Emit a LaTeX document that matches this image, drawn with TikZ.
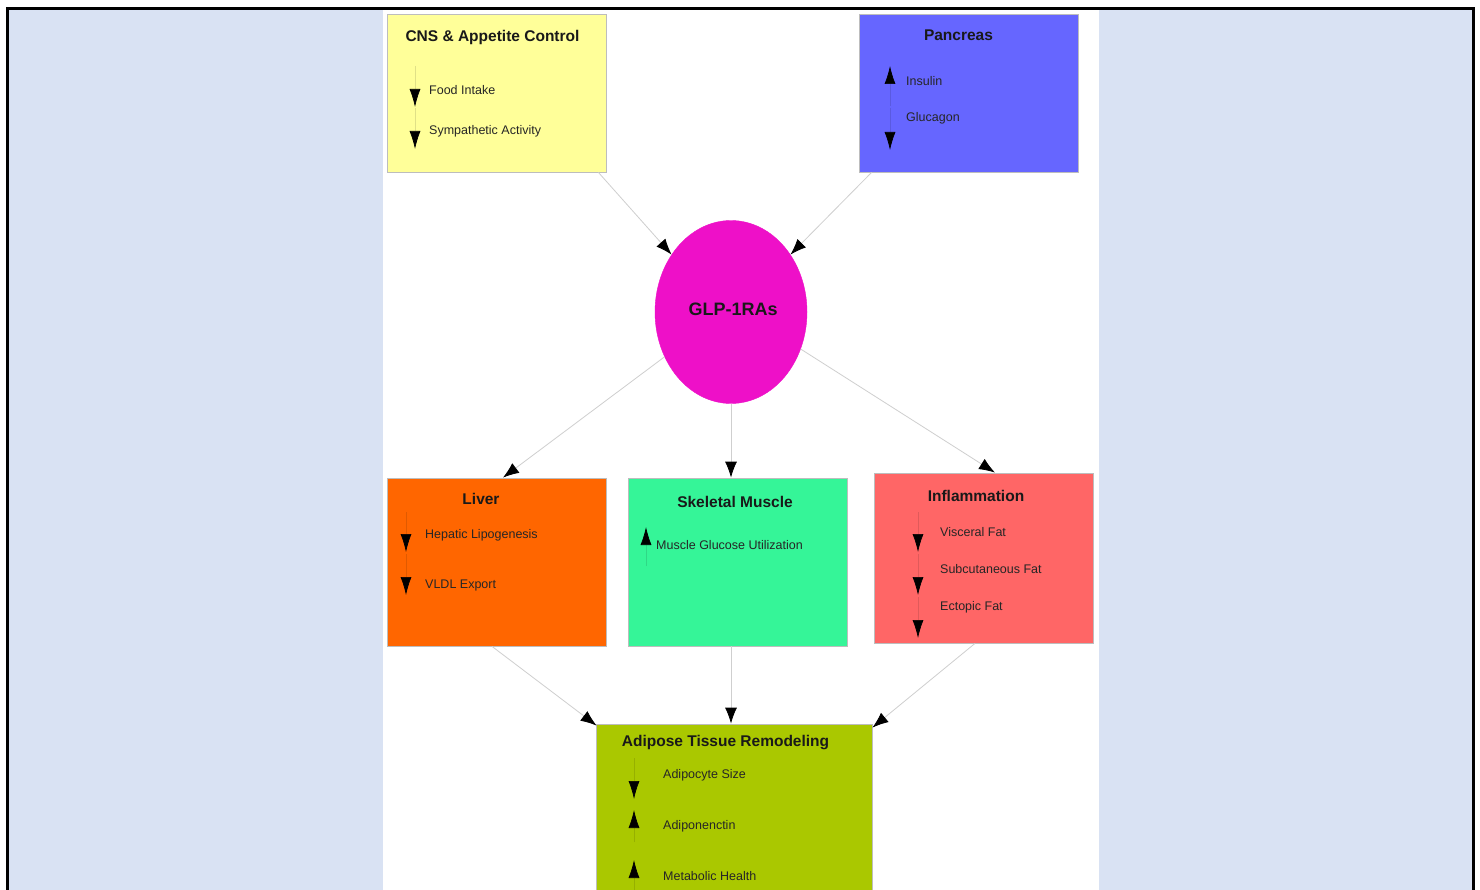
\documentclass[tikz,border=0pt]{standalone}
\usepackage{fontspec}
\setmainfont{Liberation Sans}
\usetikzlibrary{arrows.meta,shapes.geometric}
\definecolor{bgblue}{HTML}{D9E2F3}
\definecolor{cnsfill}{HTML}{FFFF99}
\definecolor{panfill}{HTML}{6666FF}
\definecolor{glpfill}{HTML}{EE10C8}
\definecolor{livfill}{HTML}{FF6600}
\definecolor{musfill}{HTML}{35F598}
\definecolor{infill}{HTML}{FF6666}
\definecolor{adifill}{HTML}{AAC800}
\definecolor{boxline}{HTML}{BDBDBD}
\definecolor{linegray}{HTML}{CFCFCF}
\begin{document}
\begin{tikzpicture}[x=1pt,y=-1pt,
  box/.style={draw=boxline,line width=0.8pt,minimum width=219pt,minimum height=158pt,inner sep=0pt},
  ttl/.style={font=\fontsize{15.5}{18}\selectfont\bfseries,text=black!90,inner sep=0pt},
  itm/.style={font=\fontsize{12.5}{15}\selectfont,text=black!85,anchor=west,inner sep=0pt},
  conn/.style={draw=linegray,line width=0.8pt,-{Latex[length=16pt,width=12pt,color=black]}},
  mk/.style={draw=#1!88!black,line width=0.7pt,-{Latex[length=18pt,width=11pt,color=black]}}]
\useasboundingbox (0,0) rectangle (1480,890);
\clip (0,0) rectangle (1480,890);
\fill[white] (0,0) rectangle (1480,890);
\draw[line width=3pt,fill=bgblue] (7.5,8.5) rectangle (1473.5,920);
\fill[white] (383,10) rectangle (1099,890);

% main nodes
\node[box,fill=cnsfill] (cns) at (496.5,93) {};
\node[box,fill=panfill] (pan) at (968.5,93) {};
\node[ellipse,fill=glpfill,draw=glpfill,minimum width=152pt,minimum height=183pt,inner sep=0pt] (glp) at (731,312) {};
\node[box,fill=livfill,minimum height=168pt] (liv) at (496.5,562) {};
\node[box,fill=musfill,minimum height=168pt] (mus) at (737.5,562) {};
\node[box,fill=infill,minimum height=170pt] (inf) at (983.5,558) {};
\node[box,fill=adifill,minimum width=276pt,minimum height=206pt] (adi) at (734,827) {};

% titles
\node[ttl] (cnsT) at (492.5,37) {CNS \& Appetite Control};
\node[ttl] (panT) at (958.5,35) {Pancreas};
\node[ttl,font=\fontsize{18}{21}\selectfont\bfseries] (glpT) at (733,309) {GLP-1RAs};
\node[ttl] (livT) at (481,499) {Liver};
\node[ttl] (musT) at (735,502) {Skeletal Muscle};
\node[ttl] (infT) at (976,496) {Inflammation};
\node[ttl] (adiT) at (725.5,743) {Adipose Tissue Remodeling};

% items
\node[itm] (c1) at (429,90) {Food Intake};
\node[itm] (c2) at (429,131) {Sympathetic Activity};
\node[itm] (p1) at (906,81) {Insulin};
\node[itm] (p2) at (906,118) {Glucagon};
\node[itm] (l1) at (425,535) {Hepatic Lipogenesis};
\node[itm] (l2) at (425,585) {VLDL Export};
\node[itm] (m1) at (656,545) {Muscle Glucose Utilization};
\node[itm] (i1) at (940,532) {Visceral Fat};
\node[itm] (i2) at (940,569) {Subcutaneous Fat};
\node[itm] (i3) at (940,607) {Ectopic Fat};
\node[itm] (a1) at (663,775) {Adipocyte Size};
\node[itm] (a2) at (663,826) {Adiponenctin};
\node[itm] (a3) at (663,876) {Metabolic Health};

% item markers
\draw[mk=cnsfill] (415,66) -- (415,107);
\draw[mk=cnsfill] (415,108) -- (415,149);
\draw[mk=panfill] (890,106) -- (890,66);
\draw[mk=panfill] (890,108) -- (890,150);
\draw[mk=livfill] (406,512) -- (406,552);
\draw[mk=livfill] (406,554) -- (406,595);
\draw[mk=musfill] (646,566) -- (646,527);
\draw[mk=infill] (918,512) -- (918,552);
\draw[mk=infill] (918,554) -- (918,595);
\draw[mk=infill] (918,597) -- (918,638);
\draw[mk=adifill] (634,758) -- (634,799);
\draw[mk=adifill] (634,842) -- (634,810);
\draw[mk=adifill] (634,892) -- (634,860);

% connectors
\draw[conn] ([xshift=-8pt]cns.south east) -- (glp.136);
\draw[conn] ([xshift=13pt]pan.south west) -- (glp.44);
\draw[conn] (glp.214) -- ([xshift=6.5pt]liv.north);
\draw[conn] (glp.south) -- (glp.south |- mus.north);
\draw[conn] (glp.-28) -- ([xshift=11.5pt]inf.north);
\draw[conn] ([xshift=-4.5pt]liv.south) -- ([xshift=1pt,yshift=-2pt]adi.north west);
\draw[conn] (glp.south |- mus.south) -- (glp.south |- adi.north);
\draw[conn] ([xshift=-8.5pt]inf.south) -- ([yshift=-4pt]adi.north east);
\end{tikzpicture}
\end{document}
